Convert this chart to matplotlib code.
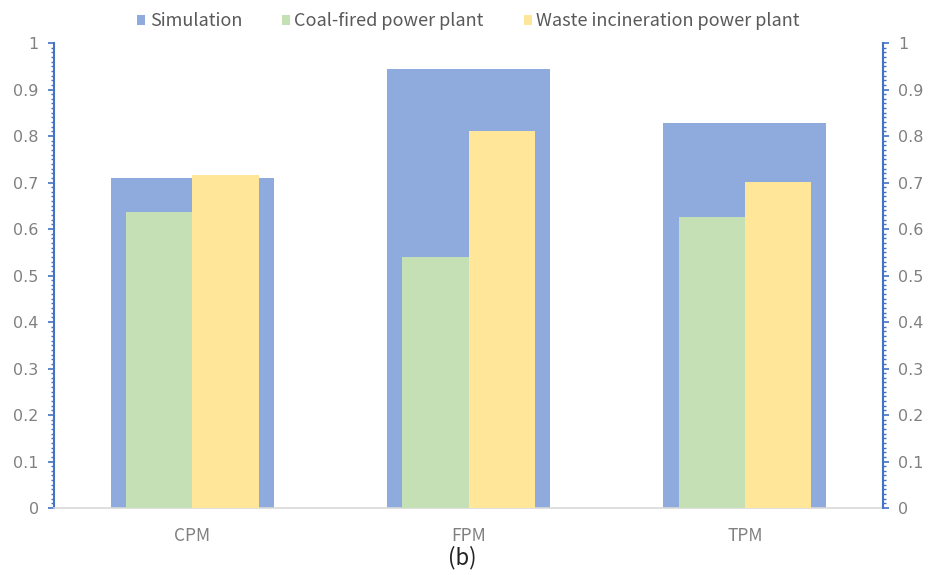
import matplotlib.pyplot as plt
import numpy as np
from matplotlib.ticker import MultipleLocator, FuncFormatter

# y tick numbers in DejaVu, other text in Noto CJK
plt.rcParams['font.family'] = ['DejaVu Sans']
cjk = ['Noto Sans CJK SC', 'DejaVu Sans']

# data
categories = ["CPM", "FPM", "TPM"]
simulation = [0.71, 0.944, 0.827]
coal_fired = [0.637, 0.54, 0.626]
waste_incineration = [0.716, 0.811, 0.701]

c_sim = "#8FAADC"
c_coal = "#C5E0B4"
c_waste = "#FFE699"
c_axis = "#4472C4"
c_text = "#808080"


def fmt(v, pos):
    v = round(v, 2)
    if v == 0:
        return "0"
    if v == 1:
        return "1"
    return f"{v:.1f}"


x = np.arange(len(categories))

fig = plt.figure(figsize=(9.33, 5.75), dpi=100)
ax = fig.add_axes([0.0579, 0.1165, 0.8885, 0.8087])

ax.bar(x, simulation, width=0.59, color=c_sim, label="Simulation", zorder=2)
ax.bar(x - 0.12, coal_fired, width=0.24, color=c_coal, label="Coal-fired power plant", zorder=3)
ax.bar(x + 0.12, waste_incineration, width=0.24, color=c_waste,
       label="Waste incineration power plant", zorder=3)

ax.set_xlim(-0.5, 2.5)
ax.set_xticks(x)
ax.set_xticklabels(categories, fontfamily=cjk)
ax.tick_params(axis="x", length=0, pad=14, labelsize=12.5, labelcolor=c_text)

for a in [ax, ax.twinx()]:
    a.set_ylim(0, 1)
    a.set_yticks(np.linspace(0, 1, 11))
    a.yaxis.set_minor_locator(MultipleLocator(0.01))
    a.yaxis.set_major_formatter(FuncFormatter(fmt))
    a.tick_params(axis="y", which="major", length=4, width=1.2, color=c_axis, labelsize=11.5,
                  labelcolor=c_text, pad=7)
    a.tick_params(axis="y", which="minor", length=2.5, width=1.0, color=c_axis)
    a.set_ylim(0, 1)
    for s in a.spines.values():
        s.set_visible(False)
    ax2 = a

ax.spines["left"].set_visible(True)
ax.spines["left"].set_color(c_axis)
ax.spines["left"].set_linewidth(1.5)
ax.spines["bottom"].set_visible(True)
ax.spines["bottom"].set_color("#D9D9D9")
ax.spines["bottom"].set_linewidth(1.2)
ax2.spines["right"].set_visible(True)
ax2.spines["right"].set_color(c_axis)
ax2.spines["right"].set_linewidth(1.5)

fig.legend(*ax.get_legend_handles_labels(), loc="center", bbox_to_anchor=(0.502, 0.963),
           ncol=3, frameon=False, prop={'family': cjk, 'size': 13},
           handlelength=0.45, handleheight=0.45,
           handletextpad=0.25, columnspacing=2.2, labelcolor="#595959")

fig.text(0.495, 0.03, "(b)", ha="center", va="center", fontsize=16, color="#222222",
         family=cjk)

fig.savefig("out.png", dpi=100)
